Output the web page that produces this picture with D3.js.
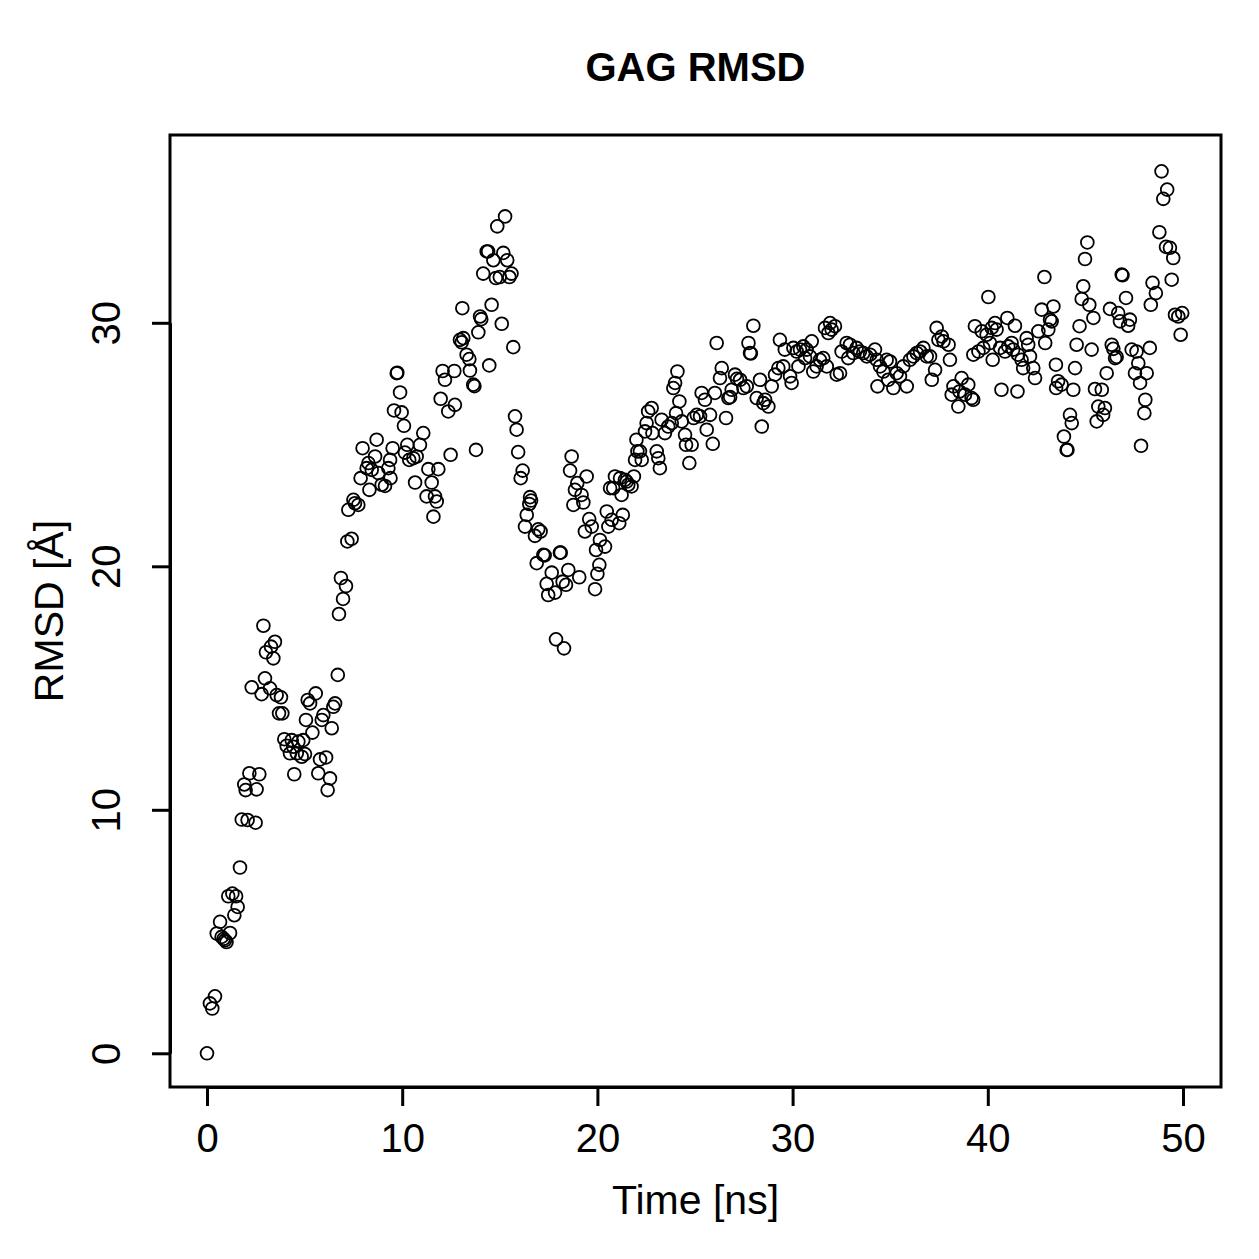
<!DOCTYPE html>
<html>
<head>
<meta charset="utf-8">
<script src="https://cdn.jsdelivr.net/npm/d3@7"></script>
<style>
  body { margin: 0; background: #fff; }
  text { font-family: "Liberation Sans", Arial, Helvetica, sans-serif; fill: #000; }
</style>
</head>
<body>
<svg id="chart" width="1259" height="1259"></svg>
<script>
// time [ns] of each frame
const timeNs = [
  0.00, 0.15, 0.27, 0.41, 0.50, 0.67, 0.75, 0.85, 0.92, 1.00,
  1.09, 1.18, 1.30, 1.40, 1.49, 1.57, 1.69, 1.78, 1.91, 1.98,
  2.08, 2.17, 2.29, 2.49, 2.54, 2.68, 2.80, 2.89, 2.97, 3.02,
  3.23, 3.28, 3.40, 3.48, 3.57, 3.69, 3.79, 3.86, 3.96, 4.08,
  4.25, 4.34, 4.42, 4.47, 4.60, 4.68, 4.85, 4.93, 5.02, 5.07,
  5.16, 5.28, 5.40, 5.57, 5.70, 5.79, 5.88, 5.96, 6.10, 6.18,
  6.30, 6.39, 6.47, 6.56, 6.70, 6.76, 6.86, 6.97, 7.12, 7.19,
  7.24, 7.41, 7.50, 7.58, 7.75, 7.87, 7.97, 8.18, 8.27, 8.32,
  8.44, 8.61, 8.69, 8.78, 8.95, 9.12, 9.29, 9.38, 9.40, 9.51,
  9.58, 9.72, 9.75, 9.89, 9.97, 10.09, 10.14, 10.26, 10.36, 10.57,
  10.66, 10.74, 10.91, 11.08, 11.25, 11.34, 11.51, 11.60, 11.68, 11.77,
  11.85, 11.97, 12.07, 12.19, 12.36, 12.48, 12.67, 12.70, 12.96, 13.05,
  13.08, 13.13, 13.30, 13.44, 13.47, 13.64, 13.70, 13.78, 13.90, 13.99,
  14.05, 14.15, 14.33, 14.40, 14.46, 14.58, 14.67, 14.80, 14.87, 15.00,
  15.10, 15.18, 15.27, 15.38, 15.49, 15.60, 15.69, 15.78, 15.86, 15.94,
  16.07, 16.17, 16.29, 16.38, 16.51, 16.55, 16.60, 16.80, 16.89, 16.97,
  17.09, 17.23, 17.30, 17.40, 17.48, 17.66, 17.83, 17.88, 18.08, 18.12,
  18.22, 18.29, 18.39, 18.51, 18.60, 18.68, 18.77, 18.85, 18.97, 19.07,
  19.19, 19.28, 19.36, 19.45, 19.58, 19.71, 19.88, 19.93, 20.00, 20.10,
  20.13, 20.39, 20.48, 20.56, 20.65, 20.73, 20.81, 20.90, 21.12, 21.16,
  21.24, 21.30, 21.41, 21.50, 21.58, 21.75, 21.87, 21.93, 22.00, 22.05,
  22.18, 22.27, 22.44, 22.52, 22.60, 22.78, 22.82, 23.04, 23.12, 23.20,
  23.29, 23.46, 23.63, 23.81, 23.89, 23.98, 24.03, 24.10, 24.20, 24.32,
  24.49, 24.54, 24.71, 24.83, 24.93, 25.09, 25.26, 25.34, 25.51, 25.60,
  25.77, 25.91, 26.02, 26.11, 26.28, 26.37, 26.59, 26.71, 26.80, 26.88,
  27.05, 27.15, 27.31, 27.48, 27.65, 27.74, 27.82, 27.86, 27.99, 28.16,
  28.33, 28.42, 28.50, 28.59, 28.76, 28.93, 29.10, 29.27, 29.35, 29.52,
  29.60, 29.87, 29.95, 30.04, 30.21, 30.30, 30.38, 30.55, 30.64, 30.72,
  30.89, 30.98, 31.06, 31.23, 31.40, 31.57, 31.66, 31.75, 31.83, 31.92,
  32.00, 32.17, 32.26, 32.43, 32.51, 32.77, 32.85, 32.94, 33.11, 33.28,
  33.45, 33.62, 33.80, 33.97, 34.22, 34.31, 34.35, 34.48, 34.65, 34.82,
  34.90, 34.99, 35.16, 35.33, 35.50, 35.67, 35.85, 36.01, 36.19, 36.36,
  36.53, 36.70, 36.87, 37.04, 37.13, 37.30, 37.38, 37.47, 37.64, 37.73,
  37.99, 38.06, 38.15, 38.24, 38.49, 38.55, 38.66, 38.83, 39.00, 39.17,
  39.25, 39.26, 39.34, 39.52, 39.69, 39.77, 39.94, 40.03, 40.11, 40.20,
  40.25, 40.37, 40.45, 40.63, 40.70, 40.88, 41.00, 41.05, 41.22, 41.30,
  41.39, 41.52, 41.55, 41.73, 41.81, 41.99, 42.07, 42.16, 42.33, 42.42,
  42.59, 42.76, 42.90, 42.94, 43.10, 43.19, 43.27, 43.36, 43.49, 43.50,
  43.60, 43.78, 43.90, 44.04, 44.08, 44.21, 44.30, 44.38, 44.47, 44.55,
  44.70, 44.81, 44.89, 44.98, 45.10, 45.20, 45.32, 45.41, 45.49, 45.58,
  45.66, 45.84, 45.91, 46.00, 46.09, 46.26, 46.35, 46.43, 46.52, 46.60,
  46.68, 46.77, 46.86, 46.90, 47.08, 47.19, 47.28, 47.37, 47.54, 47.62,
  47.71, 47.80, 47.85, 48.02, 48.07, 48.14, 48.30, 48.35, 48.44, 48.61,
  48.79, 48.90, 48.99, 49.13, 49.19, 49.33, 49.42, 49.50, 49.59, 49.76,
  49.88, 49.96
];

// RMSD [Å] at each time above
const rmsdA = [
  0.00, 2.05, 1.84, 2.34, 4.92, 5.40, 4.78, 4.70, 4.64, 4.57,
  6.45, 4.94, 6.56, 5.67, 6.45, 6.01, 7.63, 9.60, 11.04, 10.81,
  9.58, 11.50, 15.03, 9.47, 10.84, 11.46, 14.75, 17.56, 15.40, 16.47,
  14.99, 16.70, 16.22, 16.90, 14.71, 13.96, 14.62, 13.96, 12.90, 12.63,
  12.32, 12.86, 12.59, 11.46, 12.32, 12.80, 12.18, 12.86, 12.29, 13.69,
  14.51, 14.37, 13.17, 14.78, 11.50, 12.07, 13.69, 13.89, 12.15, 10.81,
  11.29, 13.35, 14.23, 14.37, 15.54, 18.04, 19.52, 18.66, 19.19, 21.02,
  22.32, 21.13, 22.73, 22.59, 22.52, 23.62, 24.85, 24.03, 24.24, 23.14,
  23.96, 24.51, 25.20, 23.83, 23.35, 23.30, 24.03, 24.37, 23.62, 24.85,
  26.40, 27.93, 27.95, 27.14, 26.32, 25.77, 24.67, 24.99, 24.37, 24.44,
  23.44, 24.51, 24.99, 25.47, 22.87, 23.99, 23.44, 22.04, 22.87, 22.66,
  23.99, 26.88, 28.02, 27.66, 26.36, 24.58, 28.02, 26.63, 29.30, 29.20,
  30.60, 29.37, 28.69, 28.51, 28.04, 27.46, 27.40, 24.78, 29.61, 30.26,
  30.15, 32.02, 32.93, 32.93, 28.25, 30.74, 32.57, 31.84, 33.96, 31.88,
  29.96, 32.87, 34.37, 32.57, 31.88, 32.02, 29.00, 26.16, 25.61, 24.69,
  23.62, 23.93, 21.63, 22.11, 22.56, 22.84, 22.70, 21.25, 20.13, 21.52,
  21.43, 20.47, 20.45, 19.28, 18.82, 19.74, 18.92, 17.00, 20.56, 20.56,
  19.37, 16.63, 19.24, 19.85, 23.93, 24.51, 22.52, 23.14, 23.42, 19.55,
  22.93, 22.62, 21.43, 23.69, 21.94, 21.63, 19.06, 20.67, 19.69, 20.06,
  21.08, 20.81, 22.25, 21.63, 23.21, 21.91, 23.21, 23.69, 21.77, 23.62,
  22.93, 22.11, 23.55, 23.48, 23.35, 23.28, 23.69, 24.37, 25.20, 24.72,
  24.72, 24.37, 25.54, 25.88, 26.36, 26.50, 25.47, 24.72, 24.44, 24.03,
  26.02, 25.47, 25.74, 25.88, 27.32, 27.53, 26.29, 28.00, 26.77, 25.95,
  25.40, 24.99, 24.24, 24.99, 26.09, 26.22, 26.16, 27.12, 26.84, 25.61,
  26.22, 25.03, 27.12, 29.17, 27.73, 28.14, 26.09, 26.91, 26.95, 27.25,
  27.87, 27.70, 27.66, 27.32, 27.39, 29.17, 28.76, 28.74, 29.88, 26.91,
  27.66, 25.74, 26.70, 26.84, 26.56, 27.39, 27.87, 28.14, 29.30, 28.21,
  28.90, 27.80, 27.53, 28.97, 28.82, 28.21, 28.90, 29.03, 28.55, 28.90,
  28.62, 29.24, 28.00, 28.21, 28.48, 28.55, 29.79, 28.21, 29.58, 29.99,
  29.72, 29.86, 27.87, 27.93, 28.82, 29.17, 28.55, 29.10, 28.76, 28.97,
  28.82, 28.76, 28.62, 28.69, 28.90, 28.48, 27.39, 28.21, 28.00, 28.48,
  27.66, 28.41, 27.32, 27.93, 27.80, 28.21, 27.39, 28.48, 28.62, 28.76,
  28.82, 28.97, 28.62, 28.62, 27.66, 28.07, 29.79, 29.30, 29.44, 29.24,
  29.10, 28.48, 27.05, 27.39, 26.56, 27.18, 27.73, 27.05, 27.46, 26.91,
  26.84, 28.69, 29.86, 28.82, 29.65, 28.97, 29.51, 31.06, 29.17, 29.79,
  28.48, 29.99, 29.72, 28.97, 27.25, 28.82, 30.20, 29.03, 29.17, 28.90,
  29.88, 27.18, 28.69, 28.48, 28.14, 29.37, 29.10, 28.62, 28.14, 27.73,
  29.65, 30.54, 31.88, 29.17, 29.72, 30.13, 30.06, 30.67, 28.28, 27.32,
  27.60, 27.46, 25.33, 24.78, 24.78, 26.22, 25.88, 27.25, 28.14, 29.10,
  29.86, 30.98, 31.50, 32.62, 33.30, 30.74, 28.90, 30.20, 27.28, 25.95,
  26.56, 27.25, 26.22, 26.50, 27.93, 30.57, 29.10, 28.93, 28.55, 28.60,
  30.40, 30.06, 31.98, 31.95, 31.02, 29.88, 30.13, 28.90, 27.93, 28.82,
  28.34, 27.53, 24.95, 26.29, 26.84, 27.93, 28.97, 30.74, 31.64, 31.22,
  33.72, 36.22, 35.09, 33.12, 35.47, 33.08, 31.77, 32.66, 30.33, 30.26,
  29.51, 30.40
];

const xTicks = [0, 10, 20, 30, 40, 50];
const yTicks = [0, 10, 20, 30];

const titleText = "GAG RMSD";
const xLabel = "Time [ns]";
const yLabel = "RMSD [Å]";

// plot frame (the R plot region)
const frame = { left: 170, right: 1221, top: 135, bottom: 1087 };

let points = timeNs.map((t, i) => ({ t: t, v: rmsdA[i] }));

let svg = d3.select("#chart");

let xScale = d3.scaleLinear().domain([0, 50]).range([207, 1183]);
let yScale = d3.scaleLinear().domain([0, 30]).range([1053.3, 322.8]);

// points
svg.append("g")
  .selectAll("circle")
  .data(points)
  .enter()
  .append("circle")
  .attr("cx", d => xScale(d.t))
  .attr("cy", d => yScale(d.v))
  .attr("r", 6.4)
  .attr("fill", "none")
  .attr("stroke", "#000")
  .attr("stroke-width", 1.8);

// box
svg.append("rect")
  .attr("x", frame.left)
  .attr("y", frame.top)
  .attr("width", frame.right - frame.left)
  .attr("height", frame.bottom - frame.top)
  .attr("fill", "none")
  .attr("stroke", "#000")
  .attr("stroke-width", 3);

// x axis
let xAxis = svg.append("g")
  .attr("transform", `translate(0,${frame.bottom})`)
  .call(d3.axisBottom(xScale).tickValues(xTicks).tickSize(19).tickSizeOuter(0));
xAxis.select(".domain").attr("stroke-width", 3);
xAxis.selectAll(".tick line").attr("stroke-width", 3);
xAxis.selectAll(".tick text")
  .attr("y", 65)
  .attr("dy", 0)
  .style("font-family", "'Liberation Sans', Arial, sans-serif")
  .style("font-size", "40px")
  .attr("fill", "#000");

// y axis
let yAxis = svg.append("g")
  .attr("transform", `translate(${frame.left},0)`)
  .call(d3.axisLeft(yScale).tickValues(yTicks).tickSize(18).tickSizeOuter(0));
yAxis.select(".domain").attr("stroke-width", 3);
yAxis.selectAll(".tick line").attr("stroke-width", 3);
yAxis.selectAll(".tick text")
  .attr("transform", "rotate(-90)")
  .attr("x", 0)
  .attr("y", -50)
  .attr("dy", 0)
  .attr("text-anchor", "middle")
  .style("font-family", "'Liberation Sans', Arial, sans-serif")
  .style("font-size", "40px")
  .attr("fill", "#000");

// title and labels
svg.append("text")
  .attr("x", (frame.left + frame.right) / 2)
  .attr("y", 81)
  .attr("text-anchor", "middle")
  .style("font-size", "40px")
  .style("font-weight", "bold")
  .text(titleText);

svg.append("text")
  .attr("x", (frame.left + frame.right) / 2)
  .attr("y", 1214)
  .attr("text-anchor", "middle")
  .style("font-size", "41px")
  .text(xLabel);

svg.append("text")
  .attr("transform", `translate(63,${(frame.top + frame.bottom) / 2}) rotate(-90)`)
  .attr("text-anchor", "middle")
  .style("font-size", "41px")
  .text(yLabel);
</script>
</body>
</html>
